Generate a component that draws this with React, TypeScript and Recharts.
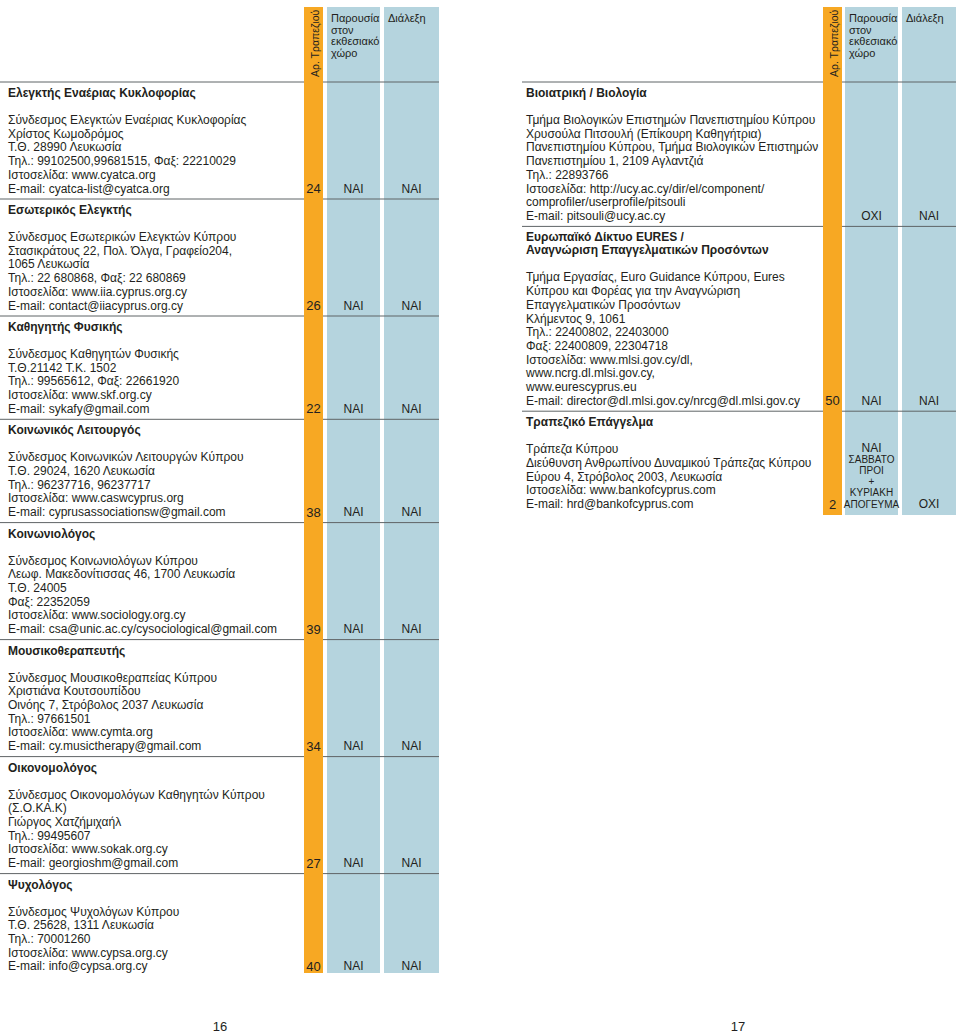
import React from "react";
import { ScatterChart, XAxis, YAxis, Scatter, ReferenceArea, ReferenceLine } from "recharts";

// column headers
const headTable = "Αρ. Τραπεζιού";
const headExpo = ["Παρουσία", "στον", "εκθεσιακό", "χώρο"];
const headTalk = ["Διάλεξη"];
const pageNumbers = ["16", "17"];

// left page
const leftTitles = [
  ["Ελεγκτής Εναέριας Κυκλοφορίας"],
  ["Εσωτερικός Ελεγκτής"],
  ["Καθηγητής Φυσικής"],
  ["Κοινωνικός Λειτουργός"],
  ["Κοινωνιολόγος"],
  ["Μουσικοθεραπευτής"],
  ["Οικονομολόγος"],
  ["Ψυχολόγος"],
];
const leftBodies = [
  ["Σύνδεσμος Ελεγκτών Εναέριας Κυκλοφορίας", "Χρίστος Κωμοδρόμος", "Τ.Θ. 28990 Λευκωσία",
    "Τηλ.: 99102500,99681515, Φαξ: 22210029", "Ιστοσελίδα: www.cyatca.org", "E-mail: cyatca-list@cyatca.org"],
  ["Σύνδεσμος Εσωτερικών Ελεγκτών Κύπρου", "Στασικράτους 22, Πολ. Όλγα, Γραφείο204,", "1065 Λευκωσία",
    "Τηλ.: 22 680868, Φαξ: 22 680869", "Ιστοσελίδα: www.iia.cyprus.org.cy", "E-mail: contact@iiacyprus.org.cy"],
  ["Σύνδεσμος Καθηγητών Φυσικής", "Τ.Θ.21142 Τ.Κ. 1502", "Τηλ.: 99565612, Φαξ: 22661920",
    "Ιστοσελίδα: www.skf.org.cy", "E-mail: sykafy@gmail.com"],
  ["Σύνδεσμος Κοινωνικών Λειτουργών Κύπρου", "Τ.Θ. 29024, 1620 Λευκωσία", "Τηλ.: 96237716, 96237717",
    "Ιστοσελίδα: www.caswcyprus.org", "E-mail: cyprusassociationsw@gmail.com"],
  ["Σύνδεσμος Κοινωνιολόγων Κύπρου", "Λεωφ. Μακεδονίτισσας 46, 1700 Λευκωσία", "Τ.Θ. 24005",
    "Φαξ: 22352059", "Ιστοσελίδα: www.sociology.org.cy", "E-mail: csa@unic.ac.cy/cysociological@gmail.com"],
  ["Σύνδεσμος Μουσικοθεραπείας Κύπρου", "Χριστιάνα Κουτσουπίδου", "Οινόης 7, Στρόβολος 2037 Λευκωσία",
    "Τηλ.: 97661501", "Ιστοσελίδα: www.cymta.org", "E-mail: cy.musictherapy@gmail.com"],
  ["Σύνδεσμος Οικονομολόγων Καθηγητών Κύπρου", "(Σ.Ο.ΚΑ.Κ)", "Γιώργος Χατζήμιχαήλ",
    "Τηλ.: 99495607", "Ιστοσελίδα: www.sokak.org.cy", "E-mail: georgioshm@gmail.com"],
  ["Σύνδεσμος Ψυχολόγων Κύπρου", "Τ.Θ. 25628, 1311 Λευκωσία", "Τηλ.: 70001260",
    "Ιστοσελίδα: www.cypsa.org.cy", "E-mail: info@cypsa.org.cy"],
];
const leftTables = ["24", "26", "22", "38", "39", "34", "27", "40"];
const leftExpo = [["ΝΑΙ"], ["ΝΑΙ"], ["ΝΑΙ"], ["ΝΑΙ"], ["ΝΑΙ"], ["ΝΑΙ"], ["ΝΑΙ"], ["ΝΑΙ"]];
const leftTalk = [["ΝΑΙ"], ["ΝΑΙ"], ["ΝΑΙ"], ["ΝΑΙ"], ["ΝΑΙ"], ["ΝΑΙ"], ["ΝΑΙ"], ["ΝΑΙ"]];

// right page
const rightTitles = [
  ["Βιοιατρική / Βιολογία"],
  ["Ευρωπαϊκό Δίκτυο EURES /", "Αναγνώριση Επαγγελματικών Προσόντων"],
  ["Τραπεζικό Επάγγελμα"],
];
const rightBodies = [
  ["Τμήμα Βιολογικών Επιστημών Πανεπιστημίου Κύπρου", "Χρυσούλα Πιτσουλή (Επίκουρη Καθηγήτρια)",
    "Πανεπιστημίου Κύπρου, Τμήμα Βιολογικών Επιστημών", "Πανεπιστημίου 1, 2109 Αγλαντζιά", "Τηλ.: 22893766",
    "Ιστοσελίδα: http://ucy.ac.cy/dir/el/component/", "comprofiler/userprofile/pitsouli", "E-mail: pitsouli@ucy.ac.cy"],
  ["Τμήμα Εργασίας, Euro Guidance Κύπρου, Eures", "Κύπρου και Φορέας για την Αναγνώριση", "Επαγγελματικών Προσόντων",
    "Κλήμεντος 9, 1061", "Τηλ.: 22400802, 22403000", "Φαξ: 22400809, 22304718", "Ιστοσελίδα: www.mlsi.gov.cy/dl,",
    "www.ncrg.dl.mlsi.gov.cy,", "www.eurescyprus.eu", "E-mail: director@dl.mlsi.gov.cy/nrcg@dl.mlsi.gov.cy"],
  ["Τράπεζα Κύπρου", "Διεύθυνση Ανθρωπίνου Δυναμικού Τράπεζας Κύπρου", "Εύρου 4, Στρόβολος 2003, Λευκωσία",
    "Ιστοσελίδα: www.bankofcyprus.com", "E-mail: hrd@bankofcyprus.com"],
];
const rightTables = ["", "50", "2"];
const rightExpo = [["ΟΧΙ"], ["ΝΑΙ"], ["ΝΑΙ", "ΣΑΒΒΑΤΟ", "ΠΡΟΙ", "+", "ΚΥΡΙΑΚΗ", "ΑΠΟΓΕΥΜΑ"]];
const rightTalk = [["ΝΑΙ"], ["ΝΑΙ"], ["ΟΧΙ"]];

const W = 960;
const H = 1034;
const LH = 13.7;
const ORANGE = "#F7A823";
const BLUE = "#B5D4DE";
const INK = "#231f20";
const RULE = "#5f6466";

const leftCfg = { textX: 8, lineX: 0, orange: [304, 323], expo: [327, 380], talk: [384, 439], top: 7, bottom: 973 };
const rightCfg = { textX: 526, lineX: 522, orange: [823, 842], expo: [845, 898], talk: [902, 956], top: 7, bottom: 515 };

const mid = (a: number[]) => (a[0] + a[1]) / 2;

const buildPage = (cfg: any, titles: string[][], bodies: string[][], tables: string[], expo: string[][], talk: string[][]) => {
  const texts: any[] = [];
  const seps: number[] = [];
  let sep = 82;
  seps.push(sep);
  texts.push({ x: mid(cfg.orange) + 1, y: 77, text: headTable, kind: "rot" });
  headExpo.forEach((t, k) => texts.push({ x: cfg.expo[0] + 4, y: 18 + k * 11.5, text: t, kind: "head" }));
  headTalk.forEach((t, k) => texts.push({ x: cfg.talk[0] + 4, y: 18 + k * 11.5, text: t, kind: "head" }));
  titles.forEach((tl, i) => {
    tl.forEach((t, k) => texts.push({ x: cfg.textX, y: sep + 11 + k * 13, text: t, kind: "title" }));
    const start = sep + 38 + (tl.length - 1) * 13;
    const body = bodies[i];
    body.forEach((t, k) => texts.push({ x: cfg.textX, y: start + k * LH, text: t, kind: "body" }));
    const last = start + (body.length - 1) * LH;
    if (tables[i]) texts.push({ x: mid(cfg.orange), y: last, text: tables[i], kind: "num" });
    [[expo[i], cfg.expo], [talk[i], cfg.talk]].forEach(([cell, col]: any) => {
      const n = cell.length;
      cell.forEach((t: string, k: number) =>
        texts.push({ x: mid(col), y: last - (n - 1 - k) * 11.2, text: t, kind: n > 1 && k > 0 ? "small" : "cell" }));
    });
    if (i < titles.length - 1) {
      sep = last + 10.5;
      seps.push(sep);
    }
  });
  return { texts, seps };
};

const left = buildPage(leftCfg, leftTitles, leftBodies, leftTables, leftExpo, leftTalk);
const right = buildPage(rightCfg, rightTitles, rightBodies, rightTables, rightExpo, rightTalk);
const pageTexts = [
  { x: 220, y: 1026, text: pageNumbers[0], kind: "page" },
  { x: 738, y: 1026, text: pageNumbers[1], kind: "page" },
];
const allTexts = [...left.texts, ...right.texts, ...pageTexts];

const styles: any = {
  title: { fontSize: 12, fontWeight: "bold", anchor: "start" },
  body: { fontSize: 12, anchor: "start" },
  num: { fontSize: 13, anchor: "middle" },
  cell: { fontSize: 12, anchor: "middle" },
  small: { fontSize: 10, anchor: "middle" },
  head: { fontSize: 11, anchor: "start" },
  rot: { fontSize: 10.5, anchor: "start" },
  page: { fontSize: 13, anchor: "middle" },
};

const TextMark = (props: any) => {
  const { cx, cy, payload } = props;
  const st = styles[payload.kind];
  return (
    <text
      x={cx}
      y={cy}
      dominantBaseline="central"
      textAnchor={st.anchor}
      fontSize={st.fontSize}
      fontWeight={st.fontWeight || "normal"}
      fontFamily="'Liberation Sans', Arial, sans-serif"
      fill={INK}
      transform={payload.kind === "rot" ? `rotate(-90 ${cx} ${cy})` : undefined}
    >
      {payload.text}
    </text>
  );
};

const bands = (cfg: any) => [
  <ReferenceArea key="o" x1={cfg.orange[0]} x2={cfg.orange[1]} y1={cfg.top} y2={cfg.bottom} fill={ORANGE} fillOpacity={1} stroke="none" />,
  <ReferenceArea key="e" x1={cfg.expo[0]} x2={cfg.expo[1]} y1={cfg.top} y2={cfg.bottom} fill={BLUE} fillOpacity={1} stroke="none" />,
  <ReferenceArea key="t" x1={cfg.talk[0]} x2={cfg.talk[1]} y1={cfg.top} y2={cfg.bottom} fill={BLUE} fillOpacity={1} stroke="none" />,
];

const rules = (cfg: any, seps: number[], tag: string) =>
  seps.flatMap((y, i) => [
    <ReferenceLine key={tag + "a" + i} segment={[{ x: cfg.lineX, y }, { x: cfg.orange[0], y }]} stroke={RULE} strokeWidth={1} />,
    <ReferenceLine key={tag + "b" + i} segment={[{ x: cfg.orange[1], y }, { x: cfg.talk[1], y }]} stroke={RULE} strokeWidth={1} />,
  ]);

export default () => {
  return (
    <div style={{ position: "absolute", left: 0, top: 0, background: "#fff" }}>
      <ScatterChart width={W} height={H} margin={{ top: 0, right: 0, bottom: 0, left: 0 }}>
        <XAxis type="number" dataKey="x" domain={[0, W]} allowDataOverflow hide />
        <YAxis type="number" dataKey="y" domain={[0, H]} allowDataOverflow reversed hide />
        {bands(leftCfg)}
        {bands(rightCfg)}
        {rules(leftCfg, left.seps, "l")}
        {rules(rightCfg, right.seps, "r")}
        <Scatter data={allTexts} dataKey="y" shape={TextMark} isAnimationActive={false} />
      </ScatterChart>
    </div>
  );
};
